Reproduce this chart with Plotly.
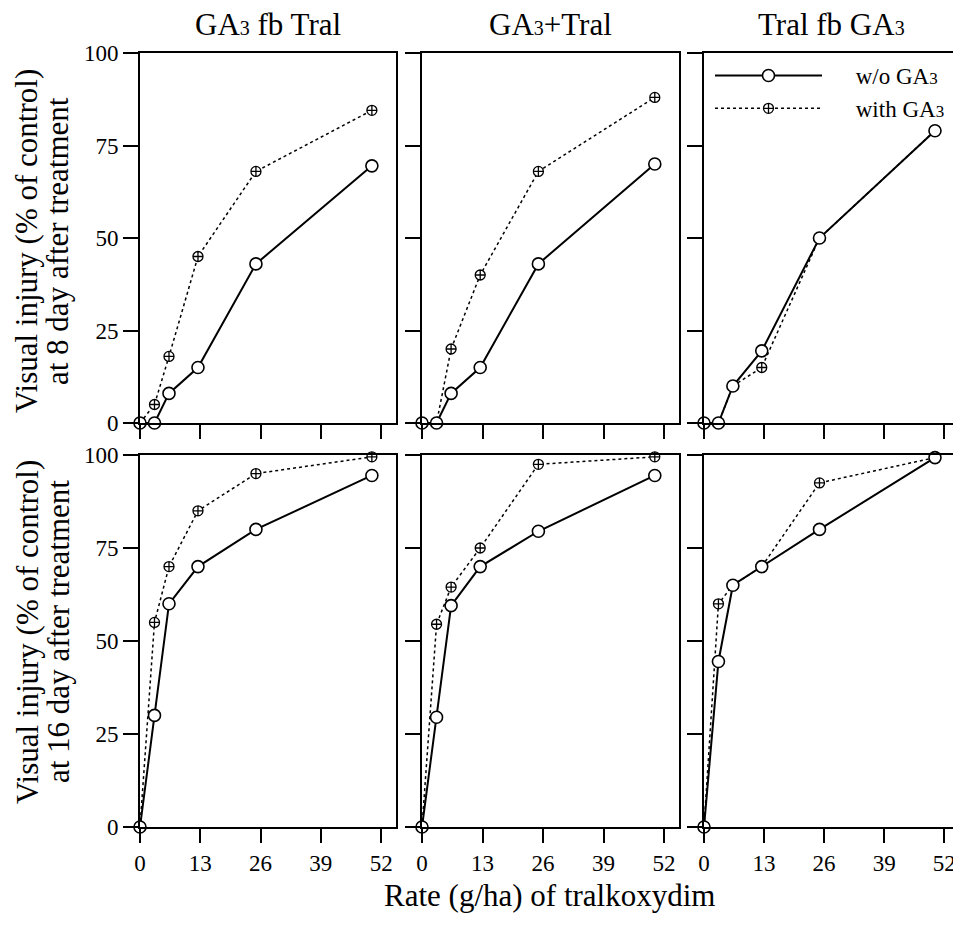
import plotly.graph_objects as go

# ---- data ----
rates = [0, 3.125, 6.25, 12.5, 25, 50]
treatments = ["GA<span style='font-size:20px'>3</span> fb Tral",
              "GA<span style='font-size:20px'>3</span>+Tral",
              "Tral fb GA<span style='font-size:20px'>3</span>"]
x_ticks = [0, 13, 26, 39, 52]
y_ticks = [0, 25, 50, 75, 100]

# 8 days after treatment
wo_8_fb = [0, 0, 8, 15, 43, 69.5]
with_8_fb = [0, 5, 18, 45, 68, 84.5]
wo_8_mix = [0, 0, 8, 15, 43, 70]
with_8_mix = [0, 0, 20, 40, 68, 88]
wo_8_tral = [0, 0, 10, 19.5, 50, 79]
with_8_tral = [0, 0, 10, 15, 50, 79]

# 16 days after treatment
wo_16_fb = [0, 30, 60, 70, 80, 94.5]
with_16_fb = [0, 55, 70, 85, 95, 99.5]
wo_16_mix = [0, 29.5, 59.5, 70, 79.5, 94.5]
with_16_mix = [0, 54.5, 64.5, 75, 97.5, 99.5]
wo_16_tral = [0, 44.5, 65, 70, 80, 99.3]
with_16_tral = [0, 60, 65, 70, 92.5, 99.3]

row_titles = ["at 8 day after treatment", "at 16 day after treatment"]
y_title = "Visual injury (% of control)"
x_title = "Rate (g/ha) of tralkoxydim"
legend_names = ["&nbsp;&nbsp;&nbsp;&nbsp;&nbsp;w/o GA<span style='font-size:17px'>3</span>",
                "&nbsp;&nbsp;&nbsp;&nbsp;&nbsp;with GA<span style='font-size:17px'>3</span>"]

wo_rows = [[wo_8_fb, wo_8_mix, wo_8_tral], [wo_16_fb, wo_16_mix, wo_16_tral]]
with_rows = [[with_8_fb, with_8_mix, with_8_tral], [with_16_fb, with_16_mix, with_16_tral]]

# ---- layout geometry ----
# the page body has an 8px margin; size the figure so the page never scrolls
OFF = 8
W, H = 961 - OFF, 928 - 2 * OFF
FONT = "Liberation Serif"


def px(x):
    return (x - OFF) / W


def py(y):
    return 1 - (y - OFF) / H


col_px = [(140, 396), (422, 679), (704, 959)]
row_px = [(53, 423), (455, 827)]

fig = go.Figure()
layout = dict(
    template="none",
    width=W, height=H,
    margin=dict(l=0, r=0, t=0, b=0, pad=0),
    paper_bgcolor="white", plot_bgcolor="white",
    font=dict(family=FONT, color="black"),
    showlegend=True,
    legend=dict(x=px(710), y=py(54), xanchor="left", yanchor="top",
                bgcolor="rgba(0,0,0,0)", borderwidth=0,
                font=dict(size=23, family=FONT, color="black"),
                itemwidth=107, traceorder="normal", tracegroupgap=7),
    annotations=[],
)

for r in range(2):
    for c in range(3):
        idx = r * 3 + c + 1
        xs = "" if idx == 1 else str(idx)
        x0, x1 = col_px[c]
        y0, y1 = row_px[r]
        common = dict(showline=True, linewidth=2, linecolor="black", mirror=True,
                      showgrid=False, zeroline=False, ticks="outside",
                      tickwidth=2, tickcolor="black", automargin=False,
                      tickfont=dict(size=23, family=FONT, color="black"))
        layout["xaxis" + xs] = dict(domain=[px(x0), min(px(x1), 1.0)], range=[0, 55.2],
                                    tickvals=x_ticks, ticktext=[str(v) for v in x_ticks],
                                    ticklen=14, showticklabels=(r == 1),
                                    anchor="y" + xs, **common)
        layout["yaxis" + xs] = dict(domain=[py(y1), py(y0)], range=[0, 100],
                                    tickvals=y_ticks, ticktext=[str(v) for v in y_ticks],
                                    ticklen=15, showticklabels=(c == 0),
                                    anchor="x" + xs, **common)
        show = (idx == 1)
        fig.add_trace(go.Scatter(
            x=rates, y=with_rows[r][c], mode="lines+markers",
            name=legend_names[1], legendgroup="with", legendrank=2, showlegend=show,
            line=dict(color="black", width=1.5, dash="dot"),
            marker=dict(symbol="circle-cross", size=10, color="white",
                        line=dict(color="black", width=1.3)),
            cliponaxis=False, xaxis="x" + xs, yaxis="y" + xs))
        fig.add_trace(go.Scatter(
            x=rates, y=wo_rows[r][c], mode="lines+markers",
            name=legend_names[0], legendgroup="wo", legendrank=1, showlegend=show,
            line=dict(color="black", width=2),
            marker=dict(symbol="circle", size=12, color="white",
                        line=dict(color="black", width=1.6)),
            cliponaxis=False, xaxis="x" + xs, yaxis="y" + xs))

# column titles
for c in range(3):
    x0, x1 = col_px[c]
    layout["annotations"].append(dict(
        text=treatments[c], x=px((x0 + x1) / 2), y=py(25),
        xref="paper", yref="paper", showarrow=False,
        xanchor="center", yanchor="middle", font=dict(size=31, family=FONT)))

# y titles (two lines each)
row_centers = [241, 632]
for r in range(2):
    layout["annotations"].append(dict(
        text=y_title, x=px(27), y=py(row_centers[r]), xref="paper", yref="paper",
        showarrow=False, textangle=-90, xanchor="center", yanchor="middle",
        font=dict(size=31, family=FONT)))
    layout["annotations"].append(dict(
        text=row_titles[r], x=px(58), y=py(row_centers[r]), xref="paper", yref="paper",
        showarrow=False, textangle=-90, xanchor="center", yanchor="middle",
        font=dict(size=31, family=FONT)))

# x title
layout["annotations"].append(dict(
    text=x_title, x=px(549), y=py(895), xref="paper", yref="paper",
    showarrow=False, xanchor="center", yanchor="middle",
    font=dict(size=31, family=FONT)))

fig.update_layout(**layout)
fig.write_html("out.html")
